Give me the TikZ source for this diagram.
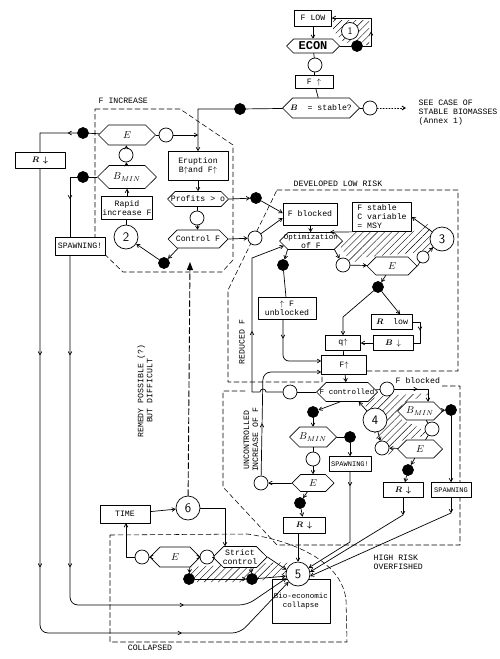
\documentclass[tikz,border=0pt]{standalone}
\usepackage{amsmath}
\usepackage{amssymb}
\usepackage{fontspec}
\setmonofont{Liberation Mono}
\usetikzlibrary{arrows.meta,shapes.symbols,patterns.meta,decorations.markings}

\begin{document}
\begin{tikzpicture}[x=1pt,y=-1pt,>={Straight Barb[length=3.2pt,width=3.8pt]},line width=0.7pt,line cap=round,line join=round,
  every node/.style={font=\fontsize{8.2}{9}\selectfont\ttfamily},
  box/.style={draw,fill=white,inner sep=1pt,align=center},
  hexa/.style={draw,fill=white,signal,signal to=west and east,inner sep=0pt,label={[align=center]center:{#1}}},
  ring/.style={draw,fill=white,circle,minimum size=14pt,inner sep=0pt},
  blob/.style={draw,fill=black,circle,minimum size=11pt,inner sep=0pt},
  num/.style={draw,fill=white,circle,minimum size=24pt,inner sep=0pt,font=\sffamily\fontsize{13}{13}\selectfont},
  zone/.style={dash pattern=on 5pt off 3pt,line width=0.55pt},
  hatch/.style={pattern={Lines[angle=45,distance=5pt,line width=0.4pt]}},
  midarr/.style={postaction={decorate},decoration={markings,mark=at position #1 with {\arrow{>}}}}]
  \useasboundingbox (0,0) rectangle (500,659);

  % hatched parts
  \fill[hatch] (333,20) -- (369,20) -- (369,45) -- (352,45) -- (341,40) -- (333,30) -- cycle;
  \fill[hatch] (339,244) -- (353,232) -- (412,232) -- (428,224) -- (438,247) -- (422,252) -- (367,257) -- (351,263) -- cycle;
  \fill[hatch] (364,401) -- (380,396) -- (433,393) -- (403,403) -- (399,418) -- (432,434) -- (400,441) -- (389,455) -- (377,441) -- cycle;
  \fill[hatch] (191,567) -- (287,562) -- (288,573) -- (256,582) -- (191,582) -- cycle;

  % dashed zones
  \draw[zone] (95,109) -- (180,109) -- (233,145) -- (233,260) -- (222,272) -- (123,272) -- (95,245) -- cycle;
  \draw[zone] (277,190) -- (458,190) -- (458,371) -- (322,371) -- (322,382) -- (228,382) -- (228,290) -- cycle;
  \draw[zone] (245,391) -- (223,391) -- (223,487) -- (277,545) -- (460,545) -- (460,386) -- (440,386);
  \draw[zone] (110,535) -- (247,534) .. controls (290,540) and (342,560) .. (346,600) -- (347,642) -- (110,642) -- cycle;

  \node[anchor=west] (tInc) at (95,101) {F INCREASE};
  \node[anchor=west] (tDev) at (290,184) {DEVELOPED LOW RISK};
  \node[anchor=west] (tBlk) at (392,381) {F blocked};
  \node[anchor=north west,align=left] (tHigh) at (370,551) {HIGH RISK\\OVERFISHED};
  \node[rotate=90,align=center] (tUnc) at (251,440) {UNCONTROLLED\\INCREASE OF F};
  \node[rotate=90] (tRed) at (242,342) {REDUCED F};
  \node[rotate=90,align=center] (tRem) at (145,391) {REMEDY POSSIBLE (?)\\BUT DIFFICULT};
  \node (tCol) at (150,648) {COLLAPSED};
  \node[anchor=north west,align=left] (tSee) at (415,96) {SEE CASE OF\\STABLE BIOMASSES\\(Annex 1)};

  % top
  \node[box,minimum width=37,minimum height=16] (flow) at (313,18) {F LOW};
  \node[num,minimum size=17pt,font=\sffamily\fontsize{10}{10}\selectfont] (one) at (350,31) {1};
  \node[hexa={\bfseries\fontsize{12}{12}\selectfont ECON},minimum width=53,minimum height=14] (econ) at (313,46) {};
  \node[blob] (dA) at (357,46) {};
  \node[ring] (cA) at (315,65) {};
  \node[box,minimum width=38,minimum height=13] (fup) at (314,82) {F $\uparrow$};
  \node[hexa={$\boldsymbol{B}$\ \ = stable?},minimum width=77,minimum height=20] (bst) at (321,108) {};
  \node[ring] (cB) at (370,108) {};
  \node[blob] (dB) at (240,109) {};
  \coordinate (seeTip) at (406,108);

  % F increase
  \node[hexa={\fontsize{10}{10}\selectfont$E$},minimum width=57,minimum height=20] (eA) at (127,135) {};
  \node[ring] (cC) at (166,135) {};
  \node[blob] (dC) at (83,133) {};
  \node[box,minimum width=50,minimum height=16] (rA) at (40,160) {$\boldsymbol{R}\,\boldsymbol{\downarrow}$};
  \node[ring] (cD) at (126,155) {};
  \node[box,minimum width=60,minimum height=29] (erupt) at (198,166) {Eruption\\B$\uparrow$and F$\uparrow$};
  \node[hexa={\fontsize{10}{10}\selectfont$B_{MIN}$},minimum width=59,minimum height=23] (bminA) at (127,177) {};
  \node[blob] (dD) at (83,177) {};
  \node[box,minimum width=50,minimum height=23] (rapid) at (127,208) {Rapid\\increase F};
  \node[box,minimum width=50,minimum height=18] (spA) at (80,246) {SPAWNING!};
  \node[num] (two) at (126,237) {2};
  \node[hexa={Profits > o},minimum width=61,minimum height=15] (profit) at (198,199) {};
  \node[ring] (cE) at (197,218) {};
  \node[hexa={Control F},minimum width=60,minimum height=18] (ctrl) at (198,239) {};
  \node[blob] (dE) at (164,263) {};
  \node[blob] (dF) at (256,198) {};
  \node[ring] (cF) at (255,238) {};

  % developed low risk
  \node[box,minimum width=54,minimum height=22] (fblk) at (310,214) {F blocked};
  \node[box,align=left,minimum width=59,minimum height=29] (fstab) at (382,217) {F stable\\C variable\\= MSY};
  \node[hexa={\fontsize{7.5}{7.8}\selectfont Optimization\\of F},minimum width=63,minimum height=17] (optim) at (311,241) {};
  \node[num] (three) at (442,239) {3};
  \node[ring] (cG) at (343,265) {};
  \node[hexa={\fontsize{10}{10}\selectfont$E$},minimum width=50,minimum height=18] (eB) at (392,266) {};
  \node[ring,minimum size=12pt] (cH) at (423,257) {};
  \node[blob] (dG) at (378,287) {};
  \node[blob] (dH) at (283,265) {};
  \node[box,minimum width=58,minimum height=22] (unblk) at (287,308) {$\uparrow$ F\\unblocked};
  \node[box,minimum width=41,minimum height=15] (rlow) at (392,322) {$\boldsymbol{R}$\ \ low};
  \node[box,minimum width=35,minimum height=15] (qup) at (343,343) {q$\uparrow$};
  \node[box,minimum width=40,minimum height=15] (bdn) at (393,343) {$\boldsymbol{B}\,\downarrow$};
  \node[box,minimum width=45,minimum height=19] (fupB) at (344,365) {F$\uparrow$};

  % high risk
  \node[hexa={\fontsize{7.6}{8}\selectfont F controlled},minimum width=61,minimum height=19] (fctl) at (347,392) {};
  \node[ring] (cI) at (387,389) {};
  \node[ring] (cJ) at (290,392) {};
  \node[num] (four) at (375,420) {4};
  \node[hexa={\fontsize{10}{10}\selectfont$B_{MIN}$},minimum width=45,minimum height=18] (bminB) at (420,411) {};
  \node[blob] (dI) at (451,410) {};
  \node[ring] (cK) at (432,429) {};
  \node[hexa={\fontsize{10}{10}\selectfont$E$},minimum width=45,minimum height=18] (eC) at (420,449) {};
  \node[ring] (cL) at (382,448) {};
  \node[blob] (dJ) at (408,470) {};
  \node[box,minimum width=40,minimum height=15] (rB) at (403,490) {$\boldsymbol{R}\,\boldsymbol{\downarrow}$};
  \node[box,minimum width=40,minimum height=15,font=\fontsize{7}{7.5}\selectfont\ttfamily] (spB) at (451,490) {SPAWNING};
  \node[blob] (dK) at (313,412) {};
  \node[hexa={\fontsize{10}{10}\selectfont$B_{MIN}$},minimum width=47,minimum height=20] (bminC) at (313,437) {};
  \node[blob] (dL) at (350,437) {};
  \node[box,minimum width=42,minimum height=15,font=\fontsize{7}{7.5}\selectfont\ttfamily] (spC) at (350,464) {SPAWNING!};
  \node[ring] (cM) at (313,459) {};
  \node[hexa={\fontsize{10}{10}\selectfont$E$},minimum width=42,minimum height=17] (eD) at (313,483) {};
  \node[ring] (cN) at (261,483) {};
  \node[blob] (dM) at (300,503) {};
  \node[box,minimum width=42,minimum height=16] (rC) at (304,525) {$\boldsymbol{R}\,\boldsymbol{\downarrow}$};

  % collapse
  \node[box,minimum width=58,minimum height=44,font=\fontsize{7.5}{8.5}\selectfont\ttfamily] (bio) at (301,601) {Bio-economic\\collapse};
  \node[num] (five) at (298,574) {5};
  \node[num] (six) at (188,508) {6};
  \node[box,minimum width=50,minimum height=18] (time) at (125,514) {TIME};
  \node[hexa={Strict\\control},minimum width=54,minimum height=21] (strict) at (240,557) {};
  \node[ring] (cO) at (207,557) {};
  \node[hexa={\fontsize{10}{10}\selectfont$E$},minimum width=50,minimum height=20] (eE) at (175,557) {};
  \node[ring] (cP) at (142,557) {};
  \node[blob] (dN) at (189,579) {};
  \node[blob] (dO) at (252,579) {};

  % connectors, top
  \coordinate (lpA) at (371,46);
  \coordinate (lpB) at (371,18);
  \draw[->] (flow) -- (econ);
  \draw (econ) -- (dA);
  \draw[->,midarr=0.3] (dA) -- (lpA) -- (lpB) -- (flow.east);
  \draw (econ) -- (cA) -- (fup) -- (bst);
  \draw (bst) -- (cB);
  \draw[->,dotted,line width=0.9pt] (cB) -- (seeTip);
  \coordinate (jA) at (198,109);
  \draw[->] (bst) -- (dB) -- (jA) -- (erupt.north);

  % F increase
  \coordinate (jB) at (40,133);
  \coordinate (jC) at (70,177);
  \draw (eA) -- (cC);
  \draw[->] (cC) -- (cC -| jA);
  \draw[midarr=0.3] (eA) -- (dC) -- (jB) -- (rA.north);
  \draw[->] (bminA) -- (cD);
  \draw[->] (cD) -- (eA);
  \draw[midarr=0.5] (bminA) -- (dD) -- (jC) -- (jC |- spA.north);
  \draw[->] (rapid) -- (bminA);
  \draw (two) -- (rapid);
  \draw[->] (dE) -- (two);
  \draw[->] (ctrl.205) -- (dE);
  \draw[->] (erupt) -- (profit);
  \draw (profit) -- (cE);
  \draw[->] (cE) -- (ctrl);
  \draw[->] (profit.east) -- (dF);
  \draw[->] (ctrl.east) -- (cF);
  \draw[->] (dF) -- ([yshift=1pt]fblk.west);
  \draw[->] (cF) -- ([yshift=-4pt]fblk.west);

  % developed low risk
  \coordinate (jD) at (343,317);
  \coordinate (jE) at (420,322);
  \coordinate (jF) at (420,343);
  \coordinate (jG) at (283,361);
  \coordinate (hop) at (266,392);
  \coordinate (jH) at (252,392);
  \coordinate (jI) at (252,258);
  \coordinate (jJ) at (263,372);
  \draw[->] (fblk) -- (optim);
  \draw[->] (fstab.south west) -- (optim.25);
  \draw[->] (three) -- (fstab.east);
  \draw[->] (optim.-20) -- (cG);
  \draw[->] (cG) -- (eB);
  \draw (eB.east) -- (cH);
  \draw[->] (cH) -- (three);
  \draw[->] (eB) -- (dG);
  \draw[->] (dG) -- ([xshift=8pt]rlow.north);
  \draw[->] (dG) -- (jD) -- (qup.north);
  \draw[midarr=0.45] (rlow.east) -- (jE) -- (jF) -- (bdn.east);
  \draw[->] (bdn) -- (qup);
  \draw (qup) -- (fupB);
  \draw[->] (optim.200) -- (dH);
  \draw (dH) -- (unblk);
  \draw[->,rounded corners=6pt,midarr=0.25] (unblk.south -| jG) -- (jG) -- (fupB.west |- jG);
  \draw[->,midarr=0.47] (cJ) -- (hop) arc[start angle=0,end angle=-180,radius=3] -- (jH) -- (jI) -- (optim.190);
  \draw[->] (eD) -- (cN);
  \draw[->,rounded corners=8pt,midarr=0.33] (cN) -- (jJ) -- (fupB.west |- jJ);

  % high risk
  \coordinate (jK) at (428,389);
  \coordinate (jL) at (350,542);
  \coordinate (jM) at (403,515);
  \coordinate (jN) at (451,513);
  \draw[->] (fupB) -- (fctl);
  \draw (fctl) -- (cJ);
  \draw (fctl) -- (cI);
  \draw[->,midarr=0.5] (cI) -- (jK) -- (jK |- bminB.north);
  \draw[->] (four) -- (fctl.-40);
  \draw[->] (four) -- (cL);
  \draw[->] (eC) -- (cL);
  \draw[->] (bminB) -- (dI);
  \draw[->] (dI) -- (spB);
  \draw (bminB) -- (cK) -- (eC);
  \draw[->] (eC) -- (dJ);
  \draw[->] (dJ) -- (rB);
  \draw[->] (fctl.235) -- (dK);
  \draw[->] (dK) -- (bminC);
  \draw (bminC) -- (dL);
  \draw[->] (dL) -- (spC);
  \draw (bminC) -- (cM);
  \draw[->] (cM) -- (eD);
  \draw[->] (eD) -- (dM);
  \draw[->] (dM) -- (rC);
  \draw[->] (rC.south -| five) -- (five);
  \draw[->,midarr=0.12] (spC) -- (jL) -- (five.30);
  \draw[->] (rB) -- (jM);
  \draw[->] (jM) -- (five.10);
  \draw[->] (spB) -- (jN);
  \draw[->] (jN) -- (five.-10);

  % collapse
  \coordinate (jO) at (225,508);
  \coordinate (jP) at (190,262);
  \coordinate (jQ) at (126,557);
  \coordinate (jR) at (40,633);
  \coordinate (jS) at (240,633);
  \coordinate (jT) at (70,605);
  \coordinate (jU) at (247,605);
  \draw[->] (time) -- (six);
  \draw[->] (six) -- (jO) -- (jO |- strict.north);
  \draw[dash pattern=on 6pt off 3pt,line width=0.9pt,-{Triangle[length=8pt,width=6pt]}] (six) -- (jP);
  \draw (strict) -- (cO);
  \draw[->] (cO) -- (eE);
  \draw[->] (eE) -- (cP);
  \draw[->] (cP) -- (jQ) -- (jQ |- time.south);
  \draw[->] (eE.-35) -- (dN);
  \draw[->] (dN) -- (dO);
  \draw[->] (strict.-45) -- (dO);
  \draw[->] (dO) -- (five.190);
  \draw[->] (strict.east) -- (five.160);
  \draw[->,rounded corners=8pt,postaction={decorate},decoration={markings,
      mark=at position 187pt with {\arrow{>}},mark=at position 399pt with {\arrow{>}},
      mark=at position 603pt with {\arrow{>}}}]
    (rA) -- (jR) -- (jS) -- (five.220);
  \draw[->,rounded corners=8pt,postaction={decorate},decoration={markings,
      mark=at position 100pt with {\arrow{>}},mark=at position 312pt with {\arrow{>}},
      mark=at position 460pt with {\arrow{>}}}]
    (spA.south -| jT) -- (jT) -- (jU) -- (five.200);
\end{tikzpicture}
\end{document}
